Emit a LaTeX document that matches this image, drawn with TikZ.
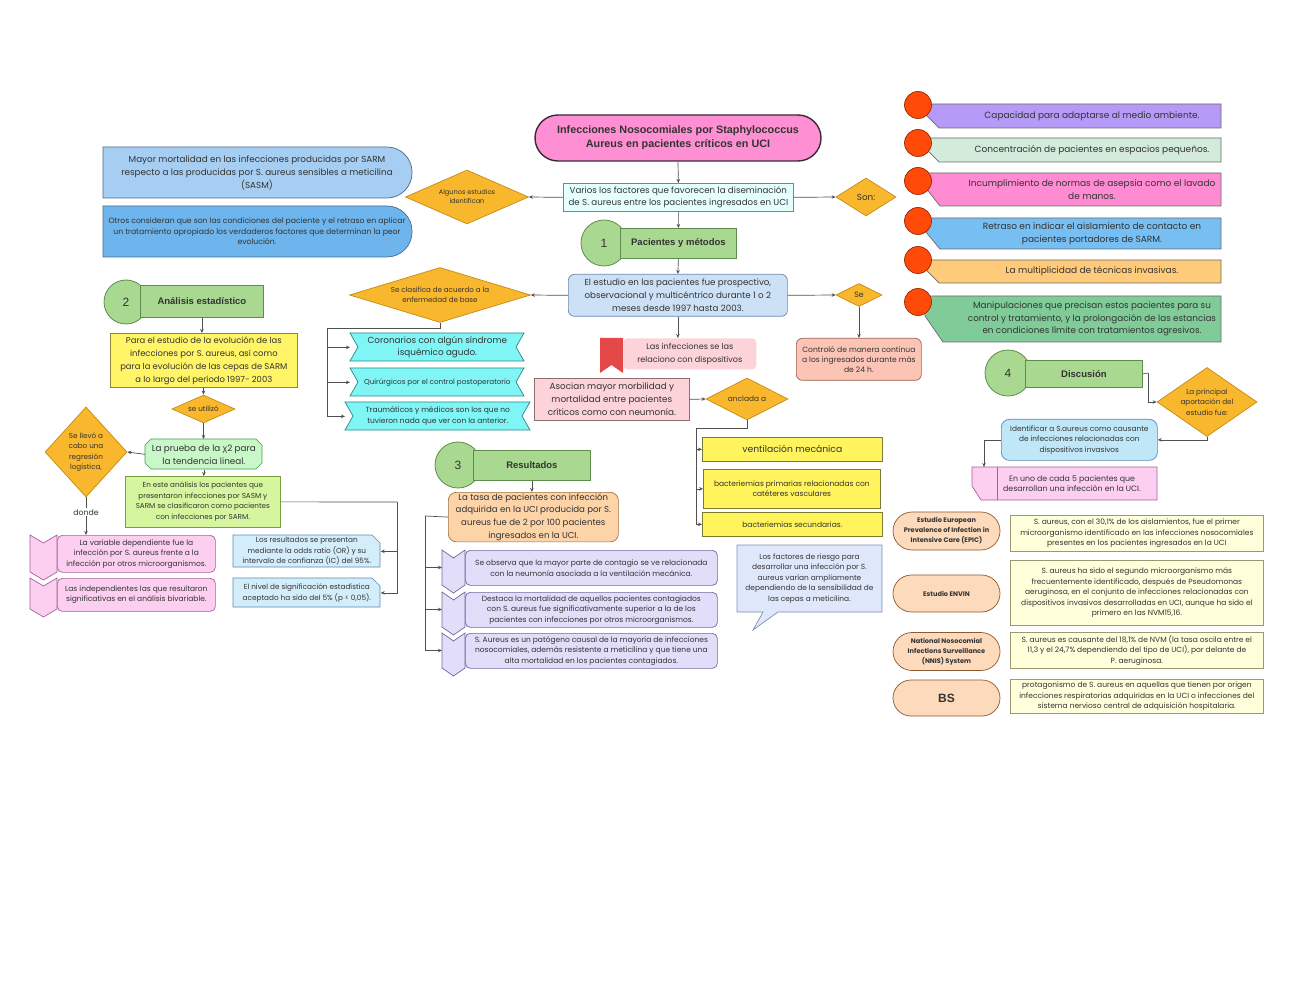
\documentclass[tikz,border=0pt]{standalone}
\usepackage{fontspec}
\setmainfont{Poppins}
\newfontfamily\hf{Liberation Sans}
\newfontfamily\grk{Liberation Sans}
\usetikzlibrary{shapes.geometric,shapes.misc,arrows.meta,calc}
\newcommand\fz[2]{\fontsize{#1}{#2}\selectfont}
\definecolor{txt}{HTML}{333333}
\definecolor{lineC}{HTML}{505050}
\definecolor{titleF}{HTML}{FF8FD3}\definecolor{titleB}{HTML}{3A2A3A}
\definecolor{variosF}{HTML}{E5FFFF}\definecolor{variosB}{HTML}{4A9A9A}
\definecolor{blueoneF}{HTML}{A6CEF2}\definecolor{bluetwoF}{HTML}{6DB5EC}\definecolor{blueB}{HTML}{4A6A90}
\definecolor{diaF}{HTML}{F9B72D}\definecolor{diaB}{HTML}{C58B12}
\definecolor{hgF}{HTML}{A9D991}\definecolor{hgB}{HTML}{5E8C4E}
\definecolor{estF}{HTML}{CDE1F6}\definecolor{estB}{HTML}{6A88B0}
\definecolor{ribF}{HTML}{80F5F5}\definecolor{ribB}{HTML}{2A8A8A}
\definecolor{bmk}{HTML}{E54848}
\definecolor{infF}{HTML}{FBD3D8}
\definecolor{asoF}{HTML}{FBD3D8}\definecolor{asoB}{HTML}{8A7070}
\definecolor{yelF}{HTML}{FFF45C}\definecolor{yelB}{HTML}{7A7A30}
\definecolor{ctlF}{HTML}{FCC4B5}\definecolor{ctlB}{HTML}{A0604F}
\definecolor{lone}{HTML}{B59BF7}\definecolor{ltwo}{HTML}{D3EBDB}\definecolor{lthree}{HTML}{FF8BD2}
\definecolor{lfour}{HTML}{77BEF2}\definecolor{lfive}{HTML}{FFCB7B}\definecolor{lsix}{HTML}{80CB98}
\definecolor{lB}{HTML}{6A6A6A}
\definecolor{circF}{HTML}{FF4A0A}\definecolor{circB}{HTML}{9A2A00}
\definecolor{idF}{HTML}{C0E7F8}\definecolor{idB}{HTML}{5A86B0}
\definecolor{pinkF}{HTML}{FCCFF1}\definecolor{pinkB}{HTML}{A9609A}
\definecolor{pillF}{HTML}{FCDABB}\definecolor{pillB}{HTML}{8A5A30}
\definecolor{tabF}{HTML}{FFFFDC}\definecolor{tabB}{HTML}{9A9A70}
\definecolor{paraF}{HTML}{FFF566}\definecolor{paraB}{HTML}{8A8A3A}
\definecolor{pruF}{HTML}{C8F7C8}\definecolor{pruB}{HTML}{4A9A4A}
\definecolor{esteF}{HTML}{D5F59F}\definecolor{esteB}{HTML}{7AA03A}
\definecolor{resF}{HTML}{D4EDFB}\definecolor{resB}{HTML}{5A8AB0}
\definecolor{tasaF}{HTML}{FDD4A8}\definecolor{tasaB}{HTML}{A07040}
\definecolor{lavF}{HTML}{E2DEFA}\definecolor{lavB}{HTML}{6A6AA0}
\definecolor{bubF}{HTML}{DFE7FA}\definecolor{bubB}{HTML}{8090B0}
\tikzset{
 mybase/.style={align=center, inner sep=1pt, line width=0.7pt, text=txt},
 mybox/.style={mybase, draw, rectangle, anchor=north west},
 mytext/.style={mybase, rectangle, anchor=north west},
 mydia/.style={mybase, diamond, draw=diaB, fill=diaF, inner sep=0pt},
 mycon/.style={draw=lineC, line width=0.7pt},
 myarr/.style={mycon, -{Stealth[length=4pt,width=3.5pt]}},
 hcirc/.style={circle, draw=hgB, fill=hgF, line width=0.8pt, minimum size=46pt, inner sep=0pt, text=txt, font=\hf\fz{12}{14}},
 hrect/.style={rectangle, draw=hgB, fill=hgF, line width=0.8pt, anchor=north west, text=txt, font=\hf\bfseries\fz{9.5}{11}},
 poly/.style={line width=0.7pt},
 pill/.style={mybase, rounded rectangle, draw=pillB, fill=pillF, minimum width=109pt, font=\bfseries\fz{6.6}{10}},
 tbox/.style={mybox, draw=tabB, fill=tabF, minimum width=253pt, font=\fz{7.5}{10.5}},
}
\begin{document}
\begin{tikzpicture}[x=1pt,y=-1pt]
\useasboundingbox (0,0) rectangle (1294,1000);
\fill[white] (0,0) rectangle (1294,1000);

% ---------- top ----------
\node[mybase, rounded rectangle, draw=titleB, line width=1.4pt, fill=titleF, minimum width=288pt, minimum height=46pt, font=\hf\bfseries\fz{10.8}{14}] (title) at (678,138) {Infecciones Nosocomiales por Staphylococcus\\Aureus en pacientes críticos en UCI};
\node[mybox, draw=variosB, fill=variosF, minimum width=230pt, minimum height=28pt, font=\fz{8.7}{12.5}] (varios) at (563,183) {Varios los factores que favorecen la diseminación\\de S. aureus entre los pacientes ingresados en UCI};
\node[mydia, aspect=2.28, minimum width=123pt, minimum height=54pt, font=\fz{6.6}{9}] (alg) at (467,197) {Algunos estudios\\identifican};
\node[mydia, aspect=1.58, minimum width=60pt, minimum height=38pt, font=\fz{8.8}{11}] (son) at (866,197) {Son:};

\filldraw[poly, draw=blueB, fill=blueoneF] (103,198) -- (103,147) [rounded corners=25pt] -- (412,147) -- (412,198) [sharp corners] -- cycle;
\node[mybase, font=\fz{8.8}{13}] (blueone) at (257,172.5) {Mayor mortalidad en las infecciones producidas por SARM\\respecto a las producidas por S. aureus sensibles a meticilina\\(SASM)};
\filldraw[poly, draw=blueB, fill=bluetwoF] (103,257) -- (103,206) [rounded corners=25pt] -- (412,206) -- (412,257) [sharp corners] -- cycle;
\node[mybase, font=\fz{7.7}{10.5}] (bluetwo) at (257,231.5) {Otros consideran que son las condiciones del paciente y el retraso en aplicar\\un tratamiento apropiado los verdaderos factores que determinan la peor\\evolución.};

% ---------- section 1 ----------
\node[hcirc] (hcone) at (604,243) {1};
\node[hrect, minimum width=116pt, minimum height=30pt] (hone) at (620,228) {Pacientes y métodos};
\node[mybox, rounded corners=6pt, draw=estB, fill=estF, minimum width=219pt, minimum height=42pt, font=\fz{8.7}{13}] (est) at (568,274) {El estudio en las pacientes fue prospectivo,\\observacional y multicéntrico durante 1 o 2\\meses desde 1997 hasta 2003.};
\node[mydia, aspect=3.29, minimum width=181pt, minimum height=55pt, font=\fz{7.1}{10}] (cla) at (440,295) {Se clasifica de acuerdo a la\\enfermedad de base};

\filldraw[poly, draw=ribB, fill=ribF] (350,333) -- (524,333) -- (516,347) -- (524,361) -- (350,361) -- (358,347) -- cycle;
\node[mytext, minimum width=174pt, minimum height=28pt, font=\fz{8.8}{12}] (cor) at (350,333) {Coronarios con algún síndrome\\isquémico agudo.};
\filldraw[poly, draw=ribB, fill=ribF] (350,368) -- (524,368) -- (516,382) -- (524,396) -- (350,396) -- (358,382) -- cycle;
\node[mytext, minimum width=174pt, minimum height=28pt, font=\fz{7.2}{10}] (qui) at (350,368) {Quirúrgicos por el control postoperatorio};
\filldraw[poly, draw=ribB, fill=ribF] (345,402) -- (530,402) -- (522,416) -- (530,430) -- (345,430) -- (353,416) -- cycle;
\node[mytext, minimum width=185pt, minimum height=28pt, font=\fz{7.5}{11}] (tra) at (345,402) {Traumáticos y médicos son los que no\\tuvieron nada que ver con la anterior.};

\fill[bmk] (600,338) -- (623,338) -- (623,373) -- (611.5,365) -- (600,373) -- cycle;
\node[mytext, rounded corners=4pt, fill=infF, minimum width=133pt, minimum height=31pt, font=\fz{8.1}{13}] (infec) at (623,338) {Las infecciones se las\\relaciono con dispositivos};
\node[mybox, draw=asoB, fill=asoF, minimum width=155pt, minimum height=42pt, font=\fz{8.8}{13}] (aso) at (534,378) {Asocian mayor morbilidad y\\mortalidad entre pacientes\\críticos como con neumonía.};
\node[mydia, aspect=1.95, minimum width=82pt, minimum height=42pt, font=\fz{7.4}{10}] (anc) at (747,399) {anclada a};
\node[mybox, draw=yelB, fill=yelF, minimum width=180pt, minimum height=24pt, font=\fz{9.2}{12}] (yone) at (702,437) {ventilación mecánica};
\node[mybox, draw=yelB, fill=yelF, minimum width=177pt, minimum height=39pt, font=\fz{7.5}{10.5}] (ytwo) at (703,469) {bacteriemias primarias relacionadas con\\catéteres vasculares};
\node[mybox, draw=yelB, fill=yelF, minimum width=180pt, minimum height=24pt, font=\fz{7.5}{10.5}] (ythree) at (702,512) {bacteriemias secundarias.};

\node[mydia, aspect=2, minimum width=46pt, minimum height=23pt, font=\fz{7.8}{10}] (se) at (859,295) {Se};
\node[mybox, rounded corners=6pt, draw=ctlB, fill=ctlF, minimum width=125pt, minimum height=42pt, font=\fz{7.6}{10.2}] (ctl) at (796,338) {Controló de manera continua\\a los ingresados durante más\\de 24 h.};

% ---------- right list ----------
\filldraw[poly, draw=lB, fill=lone] (925,104) -- (1221,104) -- (1221,128) -- (939,128) -- (925,114) -- cycle;
\node[mybase, font=\fz{9}{12.5}] (lone) at (1092,116) {Capacidad para adaptarse al medio ambiente.};
\filldraw[poly, draw=circB, fill=circF] (918,105) circle[radius=13.5];
\filldraw[poly, draw=lB, fill=ltwo] (925,138) -- (1221,138) -- (1221,162) -- (939,162) -- (925,148) -- cycle;
\node[mybase, font=\fz{9}{12.5}] (ltwo) at (1092,150) {Concentración de pacientes en espacios pequeños.};
\filldraw[poly, draw=circB, fill=circF] (918,143) circle[radius=13.5];
\filldraw[poly, draw=lB, fill=lthree] (925,173) -- (1221,173) -- (1221,206) -- (940,206) -- (925,187) -- cycle;
\node[mybase, font=\fz{9}{12.5}] (lthree) at (1092,189.5) {Incumplimiento de normas de asepsia como el lavado\\de manos.};
\filldraw[poly, draw=circB, fill=circF] (918,181) circle[radius=13.5];
\filldraw[poly, draw=lB, fill=lfour] (925,218) -- (1221,218) -- (1221,249) -- (940,249) -- (925,231) -- cycle;
\node[mybase, font=\fz{9}{12.5}] (lfour) at (1092,233.5) {Retraso en indicar el aislamiento de contacto en\\pacientes portadores de SARM.};
\filldraw[poly, draw=circB, fill=circF] (918,221) circle[radius=13.5];
\filldraw[poly, draw=lB, fill=lfive] (925,260) -- (1221,260) -- (1221,283) -- (939,283) -- (925,269) -- cycle;
\node[mybase, font=\fz{9}{12.5}] (lfive) at (1092,271.5) {La multiplicidad de técnicas invasivas.};
\filldraw[poly, draw=circB, fill=circF] (918,260) circle[radius=13.5];
\filldraw[poly, draw=lB, fill=lsix] (925,296) -- (1221,296) -- (1221,342) -- (943,342) -- (925,316) -- cycle;
\node[mybase, font=\fz{8.8}{12.8}] (lsix) at (1092,319) {Manipulaciones que precisan estos pacientes para su\\control y tratamiento, y la prolongación de las estancias\\en condiciones límite con tratamientos agresivos.};
\filldraw[poly, draw=circB, fill=circF] (918,302) circle[radius=13.5];

% ---------- section 4 ----------
\node[hcirc] (hcfour) at (1008,373) {4};
\node[hrect, minimum width=117pt, minimum height=27pt] (hfour) at (1025,360) {Discusión};
\node[mydia, aspect=1.45, minimum width=100pt, minimum height=69pt, font=\fz{7.2}{10.5}] (pri) at (1207,402) {La principal\\aportación del\\estudio fue:};
\node[mybox, rounded corners=8pt, draw=idB, fill=idF, minimum width=156pt, minimum height=41pt, font=\fz{7.4}{10.5}] (idt) at (1001,419) {Identificar a S.aureus como causante\\de infecciones relacionadas con\\dispositivos invasivos};
\filldraw[poly, draw=pinkB, fill=pinkF] (972,467) -- (1157,467) -- (1157,500) -- (981,500) -- (972,486) -- cycle;
\draw[poly, draw=pinkB] (997,467) -- (997,500);
\node[mybase, font=\fz{7.8}{10.5}] (enu) at (1072,483.5) {En uno de cada 5 pacientes que\\desarrollan una infección en la UCI.};
\coordinate (enut) at (984,467);

% ---------- table ----------
\node[pill, minimum height=38pt] (pone) at (946.5,531) {Estudio European\\Prevalence of Infection in\\Intensive Care (EPIC)};
\node[tbox, minimum height=36pt] (tone) at (1010,515) {S. aureus, con el 30,1\% de los aislamientos, fue el primer\\microorganismo identificado en las infecciones nosocomiales\\presentes en los pacientes ingresados en la UCI};
\node[pill, minimum height=37pt] (ptwo) at (946.5,593.5) {Estudio ENVIN};
\node[tbox, minimum height=65pt] (ttwo) at (1010,560) {S. aureus ha sido el segundo microorganismo más\\frecuentemente identificado, después de Pseudomonas\\aeruginosa, en el conjunto de infecciones relacionadas con\\dispositivos invasivos desarrolladas en UCI, aunque ha sido el\\primero en las NVM15,16.};
\node[pill, minimum height=38pt] (pthree) at (946.5,651.5) {National Nosocomial\\Infections Surveillance\\(NNIS) System};
\node[tbox, minimum height=36pt] (tthree) at (1010,632) {S. aureus es causante del 18,1\% de NVM (la tasa oscila entre el\\11,3 y el 24,7\% dependiendo del tipo de UCI), por delante de\\P. aeruginosa.};
\node[pill, minimum height=36pt, font=\hf\bfseries\fz{12}{14}] (pfour) at (946.5,698) {BS};
\node[tbox, minimum height=34pt] (tfour) at (1010,679) {protagonismo de S. aureus en aquellas que tienen por origen\\infecciones respiratorias adquiridas en la UCI o infecciones del\\sistema nervioso central de adquisición hospitalaria.};

% ---------- section 2 ----------
\node[hcirc, minimum size=44pt] (hctwo) at (126,302) {2};
\node[hrect, minimum width=123pt, minimum height=32pt] (htwo) at (140,285) {Análisis estadístico};
\node[mybox, draw=paraB, fill=paraF, minimum width=187pt, minimum height=54pt, font=\fz{8.4}{13}] (para) at (110,333) {Para el estudio de la evolución de las\\infecciones por S. aureus, así como\\para la evolución de las cepas de SARM\\a lo largo del período 1997- 2003};
\node[mydia, aspect=2.25, minimum width=63pt, minimum height=28pt, font=\fz{7.2}{10}] (uti) at (203.5,409) {se utilizó};
\filldraw[poly, draw=pruB, fill=pruF] (151,439) -- (256,439) -- (262,445) -- (262,463) -- (256,469) -- (151,469) -- (145,463) -- (145,445) -- cycle;
\node[mytext, minimum width=117pt, minimum height=30pt, font=\fz{8.8}{13}] (pru) at (145,439) {La prueba de la {\grk χ}2 para\\la tendencia lineal.};
\node[mydia, aspect=0.91, minimum width=82pt, minimum height=90pt, font=\fz{7.2}{10.5}] (lle) at (86,452) {Se llevó a\\cabo una\\regresión\\logística,};
\node[mybox, draw=esteB, fill=esteF, minimum width=155pt, minimum height=51pt, font=\fz{7.2}{10.5}] (este) at (125,476) {En este análisis los pacientes que\\presentaron infecciones por SASM y\\SARM se clasificaron como pacientes\\con infecciones por SARM.};

\filldraw[poly, draw=pinkB, fill=pinkF] (30,535) -- (43.5,543) -- (57,535) -- (57,572) -- (43.5,580) -- (30,572) -- cycle;
\node[mybox, rounded corners=5pt, draw=pinkB, fill=pinkF, minimum width=158pt, minimum height=37pt, font=\fz{7.5}{10.5}] (var) at (57,535) {La variable dependiente fue la\\infección por S. aureus frente a la\\infección por otros microorganismos.};
\filldraw[poly, draw=pinkB, fill=pinkF] (30,578) -- (43.5,586) -- (57,578) -- (57,609) -- (43.5,617) -- (30,609) -- cycle;
\node[mybox, rounded corners=5pt, draw=pinkB, fill=pinkF, minimum width=158pt, minimum height=33pt, font=\fz{7.5}{10.5}] (ind) at (57,578) {Las independientes las que resultaron\\significativas en el análisis bivariable.};

\filldraw[poly, draw=resB, fill=resF] (233,535) -- (372,535) -- (380,543) -- (380,567) -- (233,567) -- cycle;
\node[mytext, minimum width=147pt, minimum height=32pt, font=\fz{7.3}{10.5}] (res) at (233,535) {Los resultados se presentan\\mediante la odds ratio (OR) y su\\intervalo de confianza (IC) del 95\%.};
\filldraw[poly, draw=resB, fill=resF] (233,578) -- (372,578) -- (380,586) -- (380,607) -- (233,607) -- cycle;
\node[mytext, minimum width=147pt, minimum height=29pt, font=\fz{7.3}{10.5}] (niv) at (233,578) {El nivel de significación estadística\\aceptado ha sido del 5\% (p < 0,05).};

% ---------- section 3 ----------
\node[hcirc] (hcthree) at (458,465) {3};
\node[hrect, minimum width=117pt, minimum height=30pt] (hthree) at (473,450) {Resultados};
\node[mybox, rounded corners=8pt, draw=tasaB, fill=tasaF, minimum width=170pt, minimum height=48pt, font=\fz{8.6}{12.8}] (tasa) at (448,492) {La tasa de pacientes con infección\\adquirida en la UCI producida por S.\\aureus fue de 2 por 100 pacientes\\ingresados en la UCI.};

\filldraw[poly, draw=lavB, fill=lavF] (442,550) -- (453.5,558) -- (465,550) -- (465,585) -- (453.5,593) -- (442,585) -- cycle;
\node[mybox, rounded corners=5pt, draw=lavB, fill=lavF, minimum width=252pt, minimum height=35pt, font=\fz{7.5}{11}] (lavone) at (465,550) {Se observa que la mayor parte de contagio se ve relacionada\\con la neumonía asociada a la ventilación mecánica.};
\filldraw[poly, draw=lavB, fill=lavF] (442,592) -- (453.5,600) -- (465,592) -- (465,627) -- (453.5,635) -- (442,627) -- cycle;
\node[mybox, rounded corners=5pt, draw=lavB, fill=lavF, minimum width=252pt, minimum height=35pt, font=\fz{7.5}{10.5}] (lavtwo) at (465,592) {Destaca la mortalidad de aquellos pacientes contagiados\\con S. aureus fue significativamente superior a la de los\\pacientes con infecciones por otros microorganismos.};
\filldraw[poly, draw=lavB, fill=lavF] (442,633) -- (453.5,641) -- (465,633) -- (465,668) -- (453.5,676) -- (442,668) -- cycle;
\node[mybox, rounded corners=5pt, draw=lavB, fill=lavF, minimum width=252pt, minimum height=35pt, font=\fz{7.5}{10.5}] (lavthree) at (465,633) {S. Aureus es un patógeno causal de la mayoría de infecciones\\nosocomiales, además resistente a meticilina y que tiene una\\alta mortalidad en los pacientes contagiados.};
\coordinate (lavonet) at (442,567.5);
\coordinate (lavtwot) at (442,609.5);
\coordinate (lavthreet) at (442,650.5);

\filldraw[poly, draw=bubB, fill=bubF] (737,545) -- (882,545) -- (882,612) -- (778,612) -- (753,630) -- (763,612) -- (737,612) -- cycle;
\node[mybase, font=\fz{7.4}{10.5}] (bub) at (809.5,578.5) {Los factores de riesgo para\\desarrollar una infección por S.\\aureus varían ampliamente\\dependiendo de la sensibilidad de\\las cepas a meticilina.};

% ---------- connectors ----------
\draw[myarr] (title.south) -- (varios.north);
\draw[myarr] (varios.west) -- (alg.east);
\draw[myarr] (varios.east) -- (son.west);
\draw[myarr] (varios.south) -- (hone.north);
\draw[myarr] (hone.south) -- (est.north);
\draw[myarr] (est.west) -- (cla.east);
\coordinate (clb) at (327,328);
\draw[mycon] (cla.south) |- (clb);
\draw[myarr] (clb) |- (cor.west);
\draw[myarr] (clb) |- (qui.west);
\draw[myarr] (clb) |- (tra.west);
\draw[myarr] (est.south) -- (est.south |- infec.north);
\draw[myarr] (est.east) -- (se.west);
\draw[myarr] (se.south) -- (se.south |- ctl.north);
\draw[myarr] (aso.east) -- (anc.west);
\coordinate (anb) at (696,428);
\draw[mycon] (anc.south) |- (anb);
\draw[myarr] (anb) |- (yone.west);
\draw[myarr] (anb) |- (ytwo.west);
\draw[myarr] (anb) |- (ythree.west);

\draw[myarr] (htwo.south) -- (htwo.south |- para.north);
\draw[myarr] (para.south -| uti.north) -- (uti.north);
\draw[myarr] (uti.south) -- (uti.south |- pru.north);
\draw[myarr] (pru.west) -- (lle.east);
\draw[myarr] (pru.south) -- (pru.south |- este.north);
\draw[myarr] (lle.south) -- (lle.south |- var.north) node[pos=0.4, fill=white, inner sep=1pt, text=txt, font=\fz{7.8}{10}] (donde) {donde};
\coordinate (esr) at (397,502);
\draw[mycon] (este.east) -- (esr);
\draw[myarr] (esr) |- (res.east);
\draw[myarr] (esr) |- (niv.east);

\draw[myarr] (hthree.south) -- (hthree.south |- tasa.north);
\coordinate (tsl) at (425,516);
\draw[mycon] (tasa.west) -- (tsl);
\draw[myarr] (tsl) |- (lavonet);
\draw[myarr] (tsl) |- (lavtwot);
\draw[myarr] (tsl) |- (lavthreet);

\coordinate (hfr) at (1148,373);
\draw[mycon] (hfour.east) -- (hfr);
\draw[myarr] (hfr) |- (pri.west);
\draw[myarr] (pri.south) |- (idt.east);
\draw[myarr] (idt.west) -| (enut);
\end{tikzpicture}
\end{document}
